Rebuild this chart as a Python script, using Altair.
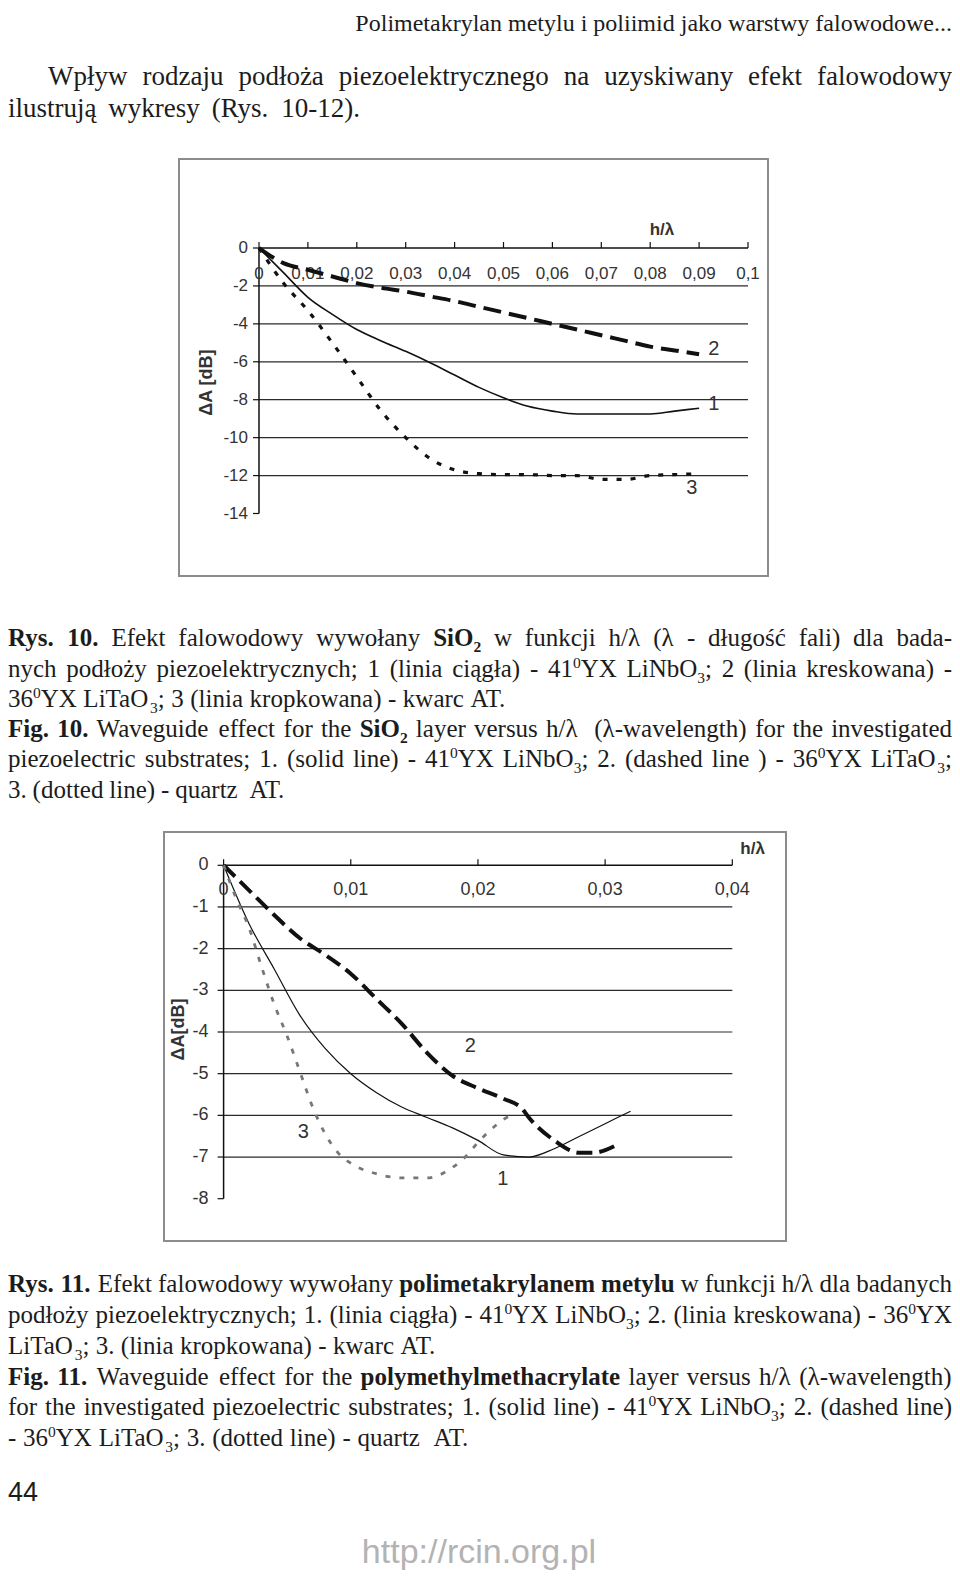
import altair as alt
import pandas as pd

# ---------------- data: figure 10 (SiO2) ----------------
F10_H = [0, 0.005, 0.01, 0.015, 0.02, 0.025, 0.03, 0.035, 0.04, 0.045,
         0.05, 0.055, 0.06, 0.065, 0.07, 0.075, 0.08, 0.085, 0.09]
F10_LINE1 = [0, -1.3, -2.6, -3.5, -4.3, -4.9, -5.45, -6.05, -6.7, -7.35,
             -7.9, -8.35, -8.6, -8.75, -8.75, -8.75, -8.75, -8.6, -8.45]
F10_LINE2 = [0, -0.8, -1.15, -1.5, -1.85, -2.1, -2.3, -2.55, -2.8, -3.1,
             -3.4, -3.7, -4.0, -4.3, -4.6, -4.9, -5.2, -5.4, -5.6]
F10_LINE3 = [0, -1.85, -3.3, -5.0, -6.8, -8.6, -10.0, -11.1, -11.7, -11.9,
             -11.95, -11.95, -12.0, -12.0, -12.2, -12.2, -12.0, -11.95, -11.9]
F10_XTICKS = [0, 0.01, 0.02, 0.03, 0.04, 0.05, 0.06, 0.07, 0.08, 0.09, 0.1]
F10_XLABELS = ["0", "0,01", "0,02", "0,03", "0,04", "0,05", "0,06", "0,07", "0,08", "0,09", "0,1"]
F10_YTICKS = [0, -2, -4, -6, -8, -10, -12, -14]
F10_GRID = [-2, -4, -6, -8, -10, -12]
F10_TAGS = ["1", "2", "3"]
F10_TAG_X = [0.093, 0.093, 0.0885]
F10_TAG_Y = [-8.2, -5.3, -12.65]

# ---------------- data: figure 11 (PMMA) ----------------
F11_H1 = [0, 0.002, 0.004, 0.006, 0.008, 0.010, 0.012, 0.014, 0.016, 0.018,
          0.020, 0.022, 0.024, 0.026, 0.028, 0.030, 0.032]
F11_LINE1 = [0, -1.4, -2.5, -3.6, -4.4, -5.0, -5.45, -5.8, -6.05, -6.3,
             -6.6, -6.95, -7.0, -6.8, -6.5, -6.2, -5.9]
F11_H2 = [0, 0.002, 0.004, 0.006, 0.008, 0.010, 0.012, 0.014, 0.016, 0.018,
          0.020, 0.022, 0.0235, 0.024, 0.026, 0.028, 0.029, 0.031]
F11_LINE2 = [0, -0.6, -1.2, -1.75, -2.15, -2.6, -3.2, -3.8, -4.5, -5.05,
             -5.35, -5.6, -5.85, -6.05, -6.6, -6.9, -6.9, -6.7]
F11_H3 = [0, 0.001, 0.002, 0.003, 0.004, 0.005, 0.006, 0.007, 0.008, 0.009,
          0.010, 0.012, 0.014, 0.016, 0.018, 0.019, 0.020, 0.021, 0.022, 0.023]
F11_LINE3 = [0, -0.8, -1.5, -2.45, -3.35, -4.1, -4.95, -5.8, -6.45, -6.9,
             -7.15, -7.4, -7.5, -7.5, -7.25, -7.0, -6.65, -6.35, -6.1, -5.95]
F11_XTICKS = [0, 0.01, 0.02, 0.03, 0.04]
F11_XLABELS = ["0", "0,01", "0,02", "0,03", "0,04"]
F11_YTICKS = [0, -1, -2, -3, -4, -5, -6, -7, -8]
F11_GRID = [-1, -2, -3, -4, -5, -6, -7]
F11_TAGS = ["1", "2", "3"]
F11_TAG_X = [0.02195, 0.0194, 0.00626]
F11_TAG_Y = [-7.52, -4.33, -6.4]

# ---------------- text of the page ----------------
HEADER = "Polimetakrylan metylu i poliimid jako warstwy falowodowe..."
BODY = [
    "Wpływ rodzaju podłoża piezoelektrycznego na uzyskiwany efekt falowodowy",
    "ilustrują wykresy (Rys. 10-12).",
]
CAPTION10 = [
    "*Rys. 10.* Efekt falowodowy wywołany *SiO_2* w funkcji h/λ (λ - długość fali) dla bada-",
    "nych podłoży piezoelektrycznych; 1 (linia ciągła) - 41^0YX LiNbO_3; 2 (linia kreskowana) -",
    "36^0YX LiTaO_3; 3 (linia kropkowana) - kwarc AT.",
    "*Fig. 10.* Waveguide effect for the *SiO_2* layer versus h/λ  (λ-wavelength) for the investigated",
    "piezoelectric substrates; 1. (solid line) - 41^0YX LiNbO_3; 2. (dashed line ) - 36^0YX LiTaO_3;",
    "3. (dotted line) - quartz  AT.",
]
CAPTION11 = [
    "*Rys. 11.* Efekt falowodowy wywołany *polimetakrylanem metylu* w funkcji h/λ dla badanych",
    "podłoży piezoelektrycznych; 1. (linia ciągła) - 41^0YX LiNbO_3; 2. (linia kreskowana) - 36^0YX",
    "LiTaO_3; 3. (linia kropkowana) - kwarc AT.",
    "*Fig. 11.* Waveguide effect for the *polymethylmethacrylate* layer versus h/λ (λ-wavelength)",
    "for the investigated piezoelectric substrates; 1. (solid line) - 41^0YX LiNbO_3; 2. (dashed line)",
    "- 36^0YX LiTaO_3; 3. (dotted line) - quartz  AT.",
]
PAGE_NO = "44"
FOOTER = "http://rcin.org.pl"

# ---------------- page geometry (page pixels) ----------------
W, H = 944, 1566
M = 8  # page margin -> plot origin


def P(v):
    return v - M


# Times metrics (per 1000 em) used to justify lines like the printed page
_R = {" ": 250, "(": 333, ")": 333, ",": 250, "-": 333, ".": 250, "/": 278, ":": 278, ";": 278,
      "A": 722, "B": 667, "C": 667, "D": 722, "E": 611, "F": 556, "G": 722, "H": 722, "I": 333,
      "J": 389, "K": 722, "L": 611, "M": 889, "N": 722, "O": 722, "P": 556, "Q": 722, "R": 667,
      "S": 556, "T": 611, "U": 722, "V": 722, "W": 944, "X": 722, "Y": 722, "Z": 611,
      "a": 444, "b": 500, "c": 444, "d": 500, "e": 444, "f": 333, "g": 500, "h": 500, "i": 278,
      "j": 278, "k": 500, "l": 278, "m": 778, "n": 500, "o": 500, "p": 500, "q": 500, "r": 333,
      "s": 389, "t": 278, "u": 500, "v": 500, "w": 722, "x": 500, "y": 500, "z": 444,
      "ł": 278, "ą": 444, "ę": 444, "ż": 444, "ś": 389, "ć": 444, "ó": 500, "ń": 500, "ź": 444,
      "λ": 500}
_B = dict(_R)
_B.update({"C": 722, "E": 667, "F": 611, "G": 778, "H": 778, "I": 389, "K": 778, "L": 667,
           "M": 944, "O": 778, "P": 611, "R": 722, "T": 667, "a": 500, "b": 556, "d": 556,
           "h": 556, "j": 333, "k": 556, "m": 833, "n": 556, "p": 556, "q": 556, "r": 444,
           "t": 333, "u": 556})


def layout(markup, base, fs, left=None, right=None, mode="justify"):
    bold = False
    words = []
    for tok in markup.split(" "):
        runs = []
        i = 0
        while i < len(tok):
            c = tok[i]
            if c == "*":
                bold = not bold
                i += 1
                continue
            script = 0
            if c in "_^":
                script = -1 if c == "_" else 1
                i += 1
                c = tok[i]
            if runs and runs[-1][1] == bold and runs[-1][2] == script:
                runs[-1][0] += c
            else:
                runs.append([c, bold, script])
            i += 1
        words.append(runs)

    def rw(r):
        size = fs * (0.62 if r[2] else 1.0)
        tab = _B if r[1] else _R
        return sum(tab.get(ch, 500) for ch in r[0]) * size / 1000.0

    widths = [sum(rw(r) for r in w) for w in words]
    gaps = len(words) - 1
    total = sum(widths)
    sp = fs * 0.25
    if mode == "justify" and gaps > 0:
        sp = (right - left - total) / gaps
    x = left if mode != "right" else right - (total + gaps * sp)
    rows = []
    for w, wd in zip(words, widths):
        cx = x
        for r in w:
            size = fs * (0.62 if r[2] else 1.0)
            dy = 0 if r[2] == 0 else (0.22 * fs if r[2] < 0 else -0.36 * fs)
            rows.append({"px": P(cx), "py": P(base + dy), "t": r[0],
                         "bold": r[1], "fs": size})
            cx += rw(r)
        x += wd + sp
    return rows


rows = []
rows += layout(HEADER, 31, 24, right=952, mode="right")
rows += layout(BODY[0], 85, 27, 48, 952)
rows += layout(BODY[1], 117, 27, 8, 360)
cap10_base = [646, 677, 707, 737, 767, 798]
cap10_right = [952, 952, 510, 952, 952, 289]
for s, b, r in zip(CAPTION10, cap10_base, cap10_right):
    rows += layout(s, b, 25, 8, r)
cap11_base = [1292, 1323, 1354, 1385, 1415, 1446]
cap11_right = [952, 952, 440, 952, 952, 473]
for s, b, r in zip(CAPTION11, cap11_base, cap11_right):
    rows += layout(s, b, 25, 8, r)
text_df = pd.DataFrame(rows)

INK = "#1c1c1c"


def text_layer(df, weight):
    return alt.Chart(df).mark_text(
        align="left", baseline="alphabetic", font="Liberation Serif",
        fontWeight=weight, color=INK
    ).encode(
        x=alt.X("px:Q", scale=None, axis=None),
        y=alt.Y("py:Q", scale=None, axis=None),
        size=alt.Size("fs:Q", scale=None, legend=None),
        text="t:N",
    )


layers = [
    text_layer(text_df[~text_df["bold"]], "normal"),
    text_layer(text_df[text_df["bold"]], "bold"),
]

# page number and footer
layers.append(
    alt.Chart(pd.DataFrame({"t": [PAGE_NO]})).mark_text(
        align="left", baseline="alphabetic", font="Liberation Sans", fontSize=27, color=INK
    ).encode(x=alt.value(P(8)), y=alt.value(P(1501)), text="t:N")
)
layers.append(
    alt.Chart(pd.DataFrame({"t": [FOOTER]})).mark_text(
        align="center", baseline="alphabetic", font="Liberation Sans", fontSize=34, color="#b3b3b3"
    ).encode(x=alt.value(P(479)), y=alt.value(P(1563)), text="t:N")
)


# ---------------- chart builder ----------------
def build_chart(xdom, xpix, ydom, ypix, frame, xticks, xlabels, yticks, grid,
                series, tags, tagx, tagy, lab_dy, ylab_dx, ytitle, ytitle_x, ytitle_y,
                hl_x, hl_y, lab_size):
    xs = alt.Scale(domain=xdom, range=[P(xpix[0]), P(xpix[1])], nice=False, zero=False)
    ys = alt.Scale(domain=ydom, range=[P(ypix[0]), P(ypix[1])], nice=False, zero=False)
    out = []
    # frame around the chart
    out.append(
        alt.Chart(pd.DataFrame({"a": [0]})).mark_rect(
            fill="white", stroke="#8c8c8c", strokeWidth=2
        ).encode(x=alt.value(P(frame[0])), x2=alt.value(P(frame[1])),
                 y=alt.value(P(frame[2])), y2=alt.value(P(frame[3])))
    )
    # gridlines
    gdf = pd.DataFrame({"y": grid, "x0": [xdom[0]] * len(grid), "x1": [xdom[1]] * len(grid)})
    out.append(
        alt.Chart(gdf).mark_rule(color="#2a2a2a", strokeWidth=1.2).encode(
            x=alt.X("x0:Q", scale=xs, axis=None), x2="x1:Q",
            y=alt.Y("y:Q", scale=ys, axis=None))
    )
    # axis lines
    out.append(
        alt.Chart(pd.DataFrame({"y": [0], "x0": [xdom[0]], "x1": [xdom[1]]})).mark_rule(
            color="#111", strokeWidth=1.5).encode(
            x=alt.X("x0:Q", scale=xs, axis=None), x2="x1:Q",
            y=alt.Y("y:Q", scale=ys, axis=None))
    )
    out.append(
        alt.Chart(pd.DataFrame({"x": [0], "y0": [ydom[0]], "y1": [ydom[1]]})).mark_rule(
            color="#111", strokeWidth=1.5).encode(
            x=alt.X("x:Q", scale=xs, axis=None),
            y=alt.Y("y0:Q", scale=ys, axis=None), y2="y1:Q")
    )
    # ticks
    xt = pd.DataFrame({"x": xticks, "y": [0] * len(xticks), "lab": xlabels})
    out.append(
        alt.Chart(xt).mark_rule(color="#111", strokeWidth=1.2, y2Offset=-6).encode(
            x=alt.X("x:Q", scale=xs, axis=None),
            y=alt.Y("y:Q", scale=ys, axis=None), y2="y:Q")
    )
    yt = pd.DataFrame({"y": yticks, "x": [0] * len(yticks),
                       "lab": [str(v) for v in yticks]})
    out.append(
        alt.Chart(yt).mark_rule(color="#111", strokeWidth=1.2, x2Offset=-6).encode(
            x=alt.X("x:Q", scale=xs, axis=None), x2="x:Q",
            y=alt.Y("y:Q", scale=ys, axis=None))
    )
    # tick labels
    out.append(
        alt.Chart(xt).mark_text(font="Liberation Sans", fontSize=lab_size, color="#333",
                                baseline="middle", dy=lab_dy).encode(
            x=alt.X("x:Q", scale=xs, axis=None),
            y=alt.Y("y:Q", scale=ys, axis=None), text="lab:N")
    )
    out.append(
        alt.Chart(yt).mark_text(font="Liberation Sans", fontSize=lab_size, color="#333",
                                align="right", baseline="middle", dx=ylab_dx).encode(
            x=alt.X("x:Q", scale=xs, axis=None),
            y=alt.Y("y:Q", scale=ys, axis=None), text="lab:N")
    )
    # series
    for (hx, vy, color, width, dash) in series:
        sdf = pd.DataFrame({"h": hx, "v": vy})
        mk = dict(color=color, strokeWidth=width, interpolate="monotone")
        if dash:
            mk["strokeDash"] = dash
        out.append(
            alt.Chart(sdf).mark_line(**mk).encode(
                x=alt.X("h:Q", scale=xs, axis=None),
                y=alt.Y("v:Q", scale=ys, axis=None))
        )
    # curve numbers
    out.append(
        alt.Chart(pd.DataFrame({"x": tagx, "y": tagy, "t": tags})).mark_text(
            font="Liberation Sans", fontSize=20, color="#333", baseline="middle").encode(
            x=alt.X("x:Q", scale=xs, axis=None),
            y=alt.Y("y:Q", scale=ys, axis=None), text="t:N")
    )
    # axis titles
    out.append(
        alt.Chart(pd.DataFrame({"x": [hl_x], "y": [hl_y], "t": ["h/λ"]})).mark_text(
            font="Liberation Sans", fontSize=17, fontWeight="bold", color="#333",
            baseline="middle").encode(
            x=alt.X("x:Q", scale=xs, axis=None),
            y=alt.Y("y:Q", scale=ys, axis=None), text="t:N")
    )
    out.append(
        alt.Chart(pd.DataFrame({"y": [ytitle_y], "t": [ytitle]})).mark_text(
            font="Liberation Sans", fontSize=18, fontWeight="bold", color="#333",
            angle=270, baseline="middle").encode(
            x=alt.value(P(ytitle_x)),
            y=alt.Y("y:Q", scale=ys, axis=None), text="t:N")
    )
    return out


layers += build_chart(
    xdom=[0, 0.1], xpix=[259, 748], ydom=[-14, 0], ypix=[513.5, 248],
    frame=[179, 768, 159, 576], xticks=F10_XTICKS, xlabels=F10_XLABELS,
    yticks=F10_YTICKS, grid=F10_GRID,
    series=[(F10_H, F10_LINE1, "#111", 1.6, None),
            (F10_H, F10_LINE2, "#111", 4, [18, 8]),
            (F10_H, F10_LINE3, "#111", 3.2, [5, 9])],
    tags=F10_TAGS, tagx=F10_TAG_X, tagy=F10_TAG_Y, lab_dy=26, ylab_dx=-11,
    ytitle="ΔA [dB]", ytitle_x=207, ytitle_y=-7.1, hl_x=0.0824, hl_y=0.95, lab_size=17,
)
layers += build_chart(
    xdom=[0, 0.04], xpix=[223.6, 732.3], ydom=[-8, 0], ypix=[1198.7, 865.3],
    frame=[164, 786, 832, 1241], xticks=F11_XTICKS, xlabels=F11_XLABELS,
    yticks=F11_YTICKS, grid=F11_GRID,
    series=[(F11_H1, F11_LINE1, "#111", 1.2, None),
            (F11_H2, F11_LINE2, "#111", 4, [16, 7]),
            (F11_H3, F11_LINE3, "#777", 2.8, [5, 9])],
    tags=F11_TAGS, tagx=F11_TAG_X, tagy=F11_TAG_Y, lab_dy=25, ylab_dx=-15,
    ytitle="ΔA[dB]", ytitle_x=179, ytitle_y=-3.94, hl_x=0.0416, hl_y=0.39, lab_size=18,
)

chart = alt.layer(*layers).resolve_scale(
    x="independent", y="independent", size="independent"
).properties(
    width=W, height=H, padding=0, autosize=alt.AutoSizeParams(type="none"),
    background="white",
).configure_view(stroke=None)

chart.save("out.html", embed_options={"renderer": "svg", "actions": False})
